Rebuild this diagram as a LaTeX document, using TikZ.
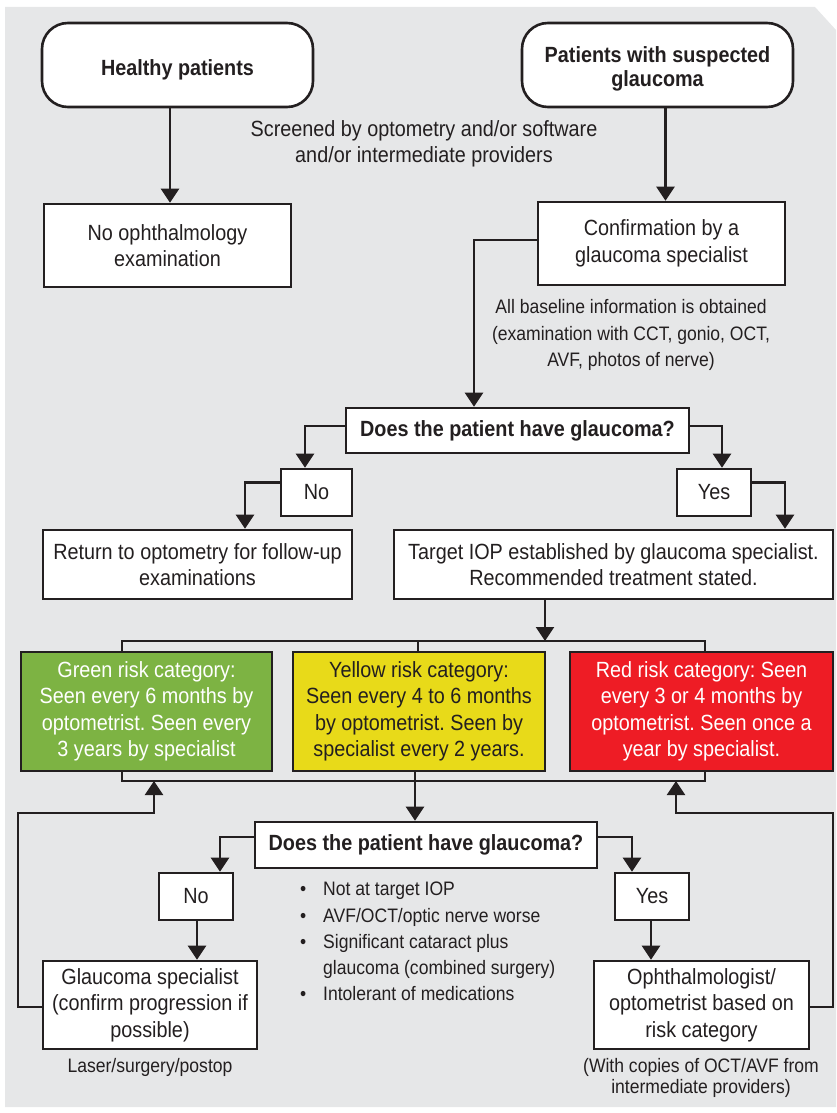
\documentclass[tikz,border=0pt]{standalone}
\usepackage{fontspec}
\setmainfont{Liberation Sans}[FakeStretch=0.9]
\usetikzlibrary{arrows.meta}
\definecolor{bg}{HTML}{E6E7E8}
\definecolor{ink}{HTML}{231F20}
\definecolor{rgreen}{HTML}{7DB343}
\definecolor{ryellow}{HTML}{E8DA19}
\definecolor{rred}{HTML}{EE1C25}
\newcommand\mainf{\frenchspacing\fontsize{22pt}{26.5pt}\selectfont}
\newcommand\smallf{\frenchspacing\fontsize{19.5pt}{26.5pt}\selectfont}
\tikzset{
 box/.style={draw=ink, line width=2.6pt, fill=white, align=center, inner sep=0pt, font=\mainf, text=ink},
 term/.style={box, rounded corners=26pt, font=\mainf\bfseries},
 dec/.style={box, font=\mainf\bfseries},
 conn/.style={draw=ink, line width=2.3pt},
 arr/.style={conn, -{Triangle[width=18pt,length=14pt]}},
 note/.style={align=center, inner sep=0pt, text=ink},
}
\begin{document}
\begin{tikzpicture}[x=1pt,y=-1pt]
\useasboundingbox (0,0) rectangle (836,1113);
\fill[bg] (5,7) -- (815,7) -- (836,30) -- (836,1107) -- (5,1107) -- cycle;

% top row
\node[term, minimum width=271pt, minimum height=84pt] (healthy) at (177.5,65) {\raisebox{-5pt}[\height][\depth]{Healthy patients}};
\node[term, minimum width=271pt, minimum height=84pt] (suspect) at (657.5,65) {\raisebox{-4pt}[\height][\depth]{\shortstack{Patients with suspected\\[1pt]glaucoma}}};
\node[note, font=\mainf] (screen) at (424,144) {Screened by optometry and/or software\\and/or intermediate providers};

\node[box, minimum width=247pt, minimum height=83pt] (noophth) at (167.5,245.5) {No ophthalmology\\examination};
\node[box, minimum width=247pt, minimum height=83pt] (confirm) at (661.5,243.5) {Confirmation by a\\glaucoma specialist};
\node[note, font=\smallf] (base) at (631,335) {All baseline information is obtained\\(examination with CCT, gonio, OCT,\\AVF, photos of nerve)};

% first decision
\node[dec, minimum width=343pt, minimum height=45pt] (dec1) at (517.5,430.5) {Does the patient have glaucoma?};
\node[box, minimum width=71pt, minimum height=47pt] (no1) at (316.5,492.5) {No};
\node[box, minimum width=74pt, minimum height=47pt] (yes1) at (714,492.5) {Yes};
\node[box, minimum width=309pt, minimum height=69pt] (ret) at (197.5,564.5) {Return to optometry for follow-up\\examinations};
\node[box, minimum width=439pt, minimum height=69pt] (target) at (613.5,564.5) {Target IOP established by glaucoma specialist.\\Recommended treatment stated.};

% risk categories
\node[box, fill=rgreen, text=white, minimum width=251pt, minimum height=119pt] (green) at (146.5,711.5) {Green risk category:\\Seen every 6 months by\\optometrist. Seen every\\3 years by specialist};
\node[box, fill=ryellow, minimum width=252pt, minimum height=119pt] (yellow) at (419,711.5) {Yellow risk category:\\Seen every 4 to 6 months\\by optometrist. Seen by\\specialist every 2 years.};
\node[box, fill=rred, text=white, minimum width=263pt, minimum height=119pt] (red) at (701.5,711.5) {Red risk category: Seen\\every 3 or 4 months by\\optometrist. Seen once a\\year by specialist.};

% second decision
\node[dec, minimum width=342pt, minimum height=46pt] (dec2) at (426,845) {Does the patient have glaucoma?};
\node[box, minimum width=74pt, minimum height=47pt] (no2) at (196,896.5) {No};
\node[box, minimum width=74pt, minimum height=47pt] (yes2) at (652,896.5) {Yes};
\node[box, minimum width=214pt, minimum height=88pt] (gs) at (150,1005) {Glaucoma specialist\\(confirm progression if\\possible)};
\node[box, minimum width=215pt, minimum height=88pt] (oph) at (701.5,1005) {Ophthalmologist/\\optometrist based on\\risk category};
\node[note, font=\smallf] (laser) at (150,1067) {Laser/surgery/postop};
\node[note, font=\frenchspacing\fontsize{19.5pt}{21.7pt}\selectfont] (copies) at (701,1078) {(With copies of OCT/AVF from\\intermediate providers)};
\node[note, anchor=west, align=left, font=\frenchspacing\fontsize{19.5pt}{26.2pt}\selectfont] (bul) at (300,941.5)
 {\makebox[23pt][l]{\textbullet}Not at target IOP\\
  \makebox[23pt][l]{\textbullet}AVF/OCT/optic nerve worse\\
  \makebox[23pt][l]{\textbullet}Significant cataract plus\\
  \makebox[23pt][l]{}glaucoma (combined surgery)\\
  \makebox[23pt][l]{\textbullet}Intolerant of medications};

% coordinates
\coordinate (tl) at (122,641);
\coordinate (tr) at (705,641);
\coordinate (tin) at (545,641);
\coordinate (bl) at (122,781);
\coordinate (br) at (705,781);
\coordinate (lc) at (18,813);
\coordinate (lin) at (154,781);
\coordinate (rc) at (833,813);
\coordinate (rin) at (676,781);

% connectors
\draw[arr] ([xshift=-7.5pt]healthy.south) -- ([xshift=-7.5pt]healthy.south |- noophth.north);
\draw[arr] ([xshift=8pt]suspect.south) -- ([xshift=8pt]suspect.south |- confirm.north);
\draw[arr] ([yshift=3.5pt]confirm.west) -| ([xshift=-43.5pt]dec1.north);
\draw[arr] ([yshift=4.5pt]dec1.west) -| ([xshift=-11.5pt]no1.north);
\draw[arr] ([yshift=10pt]no1.west) -| ([xshift=47.5pt]ret.north);
\draw[arr] ([yshift=4.5pt]dec1.east) -| ([xshift=8pt]yes1.north);
\draw[arr] ([yshift=10pt]yes1.east) -| ([xshift=171.5pt]target.north);
\draw[arr] ([xshift=-68.5pt]target.south) -- (tin);
\draw[conn] ([xshift=-24.5pt]green.north) -- (tl) -- (tr) -- ([xshift=3.5pt]red.north);
\draw[conn] ([xshift=-1pt]yellow.north |- tl) -- ([xshift=-1pt]yellow.north);
\draw[conn] ([xshift=-24.5pt]green.south) -- (bl) -- (br) -- ([xshift=3.5pt]red.south);
\draw[arr] ([xshift=-4pt]yellow.south) -- ([xshift=-4pt]yellow.south |- dec2.north);
\draw[arr] ([yshift=7.7pt]dec2.west) -| ([xshift=24pt]no2.north);
\draw[arr] ([xshift=1pt]no2.south) -- ([xshift=1pt]no2.south |- gs.north);
\draw[arr] ([yshift=7.7pt]dec2.east) -| ([xshift=-20pt]yes2.north);
\draw[arr] ([xshift=-1pt]yes2.south) -- ([xshift=-1pt]yes2.south |- oph.north);
\draw[arr] ([yshift=-2pt]gs.west) -| (lc) -| (lin);
\draw[arr] ([yshift=-2pt]oph.east) -| (rc) -| (rin);
\end{tikzpicture}
\end{document}
